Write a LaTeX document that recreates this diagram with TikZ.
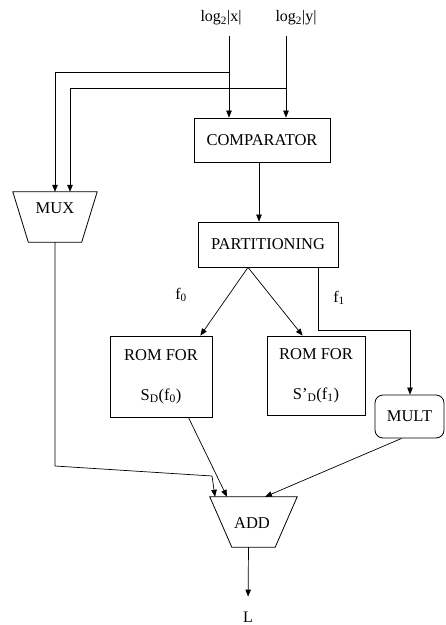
\documentclass[tikz,border=0pt]{standalone}
\usepackage{fontspec}
\setmainfont{Liberation Serif}
\usetikzlibrary{arrows.meta,calc}
\tikzset{
  arr/.style={-{Triangle[length=7pt,width=5.5pt]}, line width=0.7pt},
  box/.style={draw, line width=0.8pt, inner sep=0pt, font=\fontsize{16.5}{19}\selectfont, align=center},
  lab/.style={inner sep=1pt, font=\fontsize{16}{18}\selectfont},
  txt/.style={inner sep=0pt, font=\fontsize{16.5}{19}\selectfont},
  frame/.style={inner sep=0pt},
  trapline/.style={draw, line width=0.8pt, line join=miter}
}
\begin{document}
\begin{tikzpicture}[x=1pt,y=-1pt]
\useasboundingbox (0,0) rectangle (446,625);
% labels
\node[lab] (lx) at (221,18) {log\textsubscript{2}|x|};
\node[lab] (ly) at (296,18) {log\textsubscript{2}|y|};
% boxes
\node[box, minimum width=136, minimum height=44] (comp) at (262,140) {COMPARATOR};
\node[box, minimum width=140, minimum height=45] (part) at (268,244.5) {PARTITIONING};
\node[box, minimum width=102, minimum height=81] (rom1) at (161,376.5) {ROM FOR\\[21pt]S\textsubscript{D}(f\textsubscript{0})};
\node[box, minimum width=98, minimum height=79] (rom2) at (316,375.5) {ROM FOR\\[21pt]S\textquoteright\textsubscript{D}(f\textsubscript{1})};
\node[box, rounded corners=8pt, minimum width=69, minimum height=43] (mult) at (409.5,416.5) {MULT};
% trapezoids
\node[frame, minimum width=84, minimum height=50] (mux) at (55,217) {};
\draw[trapline] (mux.north west) -- (mux.north east) -- ($(mux.south east)+(-15.5,0)$) -- ($(mux.south west)+(15.5,0)$) -- cycle;
\node[txt] (muxt) at (55,208) {MUX};
\node[frame, minimum width=87, minimum height=50] (add) at (253.5,522) {};
\draw[trapline] (add.north west) -- (add.north east) -- ($(add.south east)+(-22,0)$) -- ($(add.south west)+(22,0)$) -- cycle;
\node[txt] (addt) at (252,523) {ADD};
\node[lab] (f0) at (181,295) {f\textsubscript{0}};
\node[lab] (f1) at (339,298) {f\textsubscript{1}};
\node[lab] (L) at (248,617) {L};
% inputs
\coordinate (xs) at (229,36);
\coordinate (ys) at (286,36);
\draw[arr] (xs) -- (xs |- comp.north);
\draw[arr] (ys) -- (ys |- comp.north);
\draw[arr] (xs |- 0,72) -- (55,72) -- (mux.north);
\draw[arr] (ys |- 0,88) -- (70,88) -- (70,0 |- mux.north);
% comparator -> partitioning
\coordinate (c1) at ($(comp.south)+(-3,0)$);
\draw[arr] (c1) -- (c1 |- part.north);
% partitioning -> roms
\coordinate (p0) at ($(part.south)+(-20,0)$);
\draw[arr] (p0) -- ($(rom1.north east)+(-12,0)$);
\draw[arr] (p0) -- ($(rom2.north west)+(36,0)$);
\draw[arr] (318,0 |- part.south) -- (318,330) -- (410,330) -- (410,0 |- mult.north);
% to adder
\draw[arr] (mux.south) -- (55,466) -- (212,476) -- ($(add.north)+(-38.5,0)$);
\draw[arr] ($(rom1.south east)+(-24,0)$) -- ($(add.north)+(-26.5,0)$);
\draw[arr] ($(mult.south west)+(27,0)$) -- ($(add.north)+(11.5,0)$);
\draw[arr, shorten >=14pt] ($(add.south)+(-5,0)$) -- ($(L.north)$);
\end{tikzpicture}
\end{document}
